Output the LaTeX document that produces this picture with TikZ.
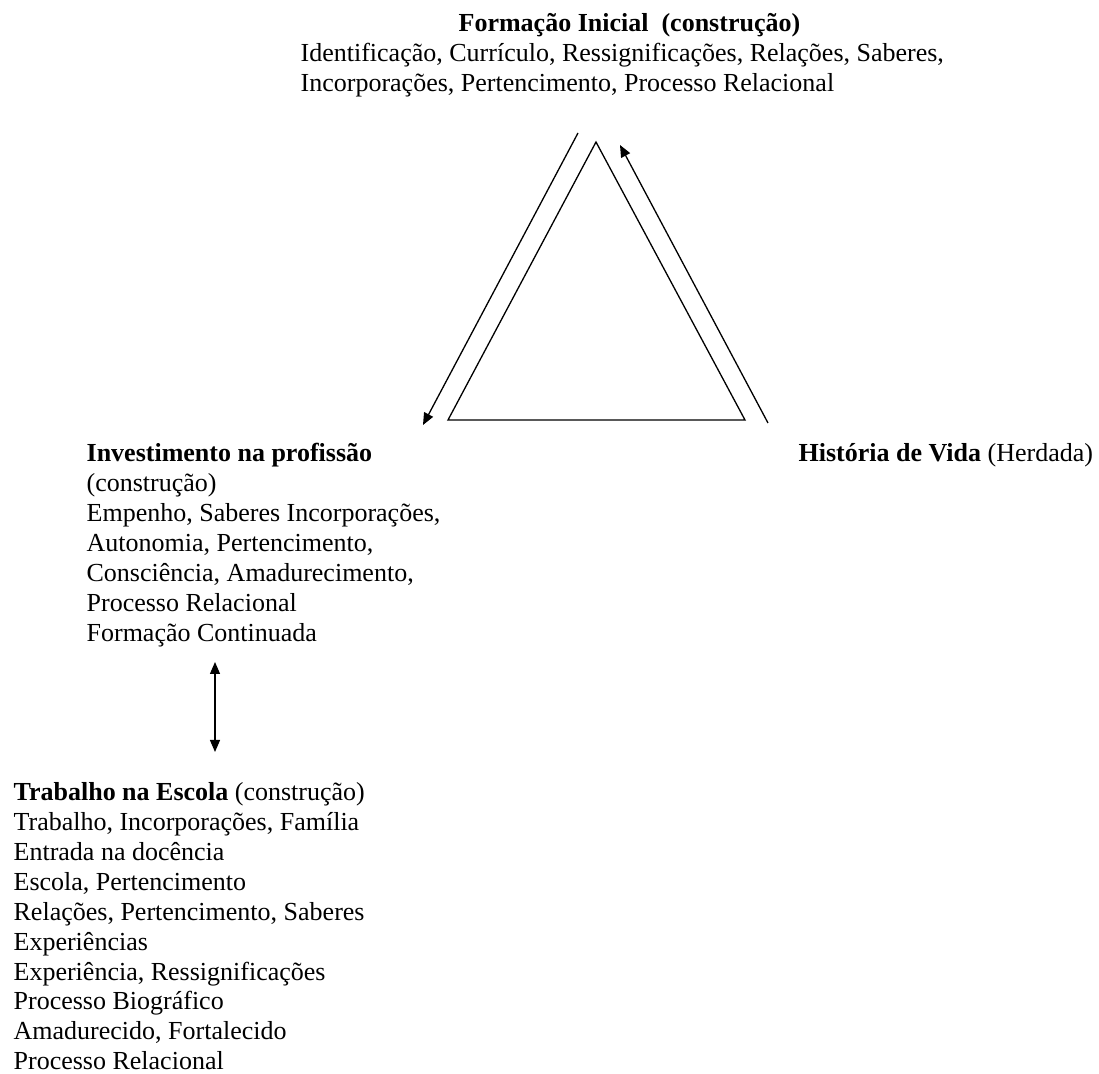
\documentclass[tikz,border=0pt]{standalone}
\usepackage{fontspec}
\setmainfont{Liberation Serif}
\usetikzlibrary{arrows.meta, positioning}

\begin{document}
\begin{tikzpicture}[x=0.5pt,y=-0.5pt, line width=0.65pt,
    >={Triangle[length=6pt,width=5pt]},
    txt/.style={font=\fontsize{13}{15}\selectfont, inner sep=0pt,
                anchor=base west, align=left}]
  \useasboundingbox (0,0) rectangle (1099,1074);
  % triangle
  \coordinate (apex) at (596,142);
  \coordinate (bl) at (448,420);
  \coordinate (br) at (745,420);
  \draw (apex) -- (bl) -- (br) -- cycle;
  % arrows along the sides
  \coordinate (ls) at (578,133);
  \coordinate (le) at (423,425);
  \coordinate (rs) at (768,423);
  \coordinate (re) at (620,145);
  \draw[->] (ls) -- (le);
  \draw[->] (rs) -- (re);
  % texts (placed at the baseline of their last line)
  \node[txt] (fi) at (458,32) {\textbf{Formação Inicial\ \ (construção)}};
  \node[txt] (fil) at (300,92) {Identificação, Currículo, Ressignificações, Relações, Saberes,\\
        Incorporações, Pertencimento, Processo Relacional};
  \node[txt] (ip) at (86,642) {\textbf{Investimento na profissão}\\
        (construção)\\
        Empenho, Saberes Incorporações,\\
        Autonomia, Pertencimento,\\
        Consciência, Amadurecimento,\\
        Processo Relacional\\
        Formação Continuada};
  \node[txt] (hv) at (798,462) {\textbf{História de Vida} (Herdada)};
  \node[txt] (te) at (13,1070) {\textbf{Trabalho na Escola} (construção)\\
        Trabalho, Incorporações, Família\\
        Entrada na docência\\
        Escola, Pertencimento\\
        Relações, Pertencimento, Saberes\\
        Experiências\\
        Experiência, Ressignificações\\
        Processo Biográfico\\
        Amadurecido, Fortalecido\\
        Processo Relacional};
  % between the two lower blocks
  \coordinate (vt) at (215,662);
  \coordinate (vb) at (215,752);
  \draw[<->] (vt) -- (vb);
\end{tikzpicture}
\end{document}
